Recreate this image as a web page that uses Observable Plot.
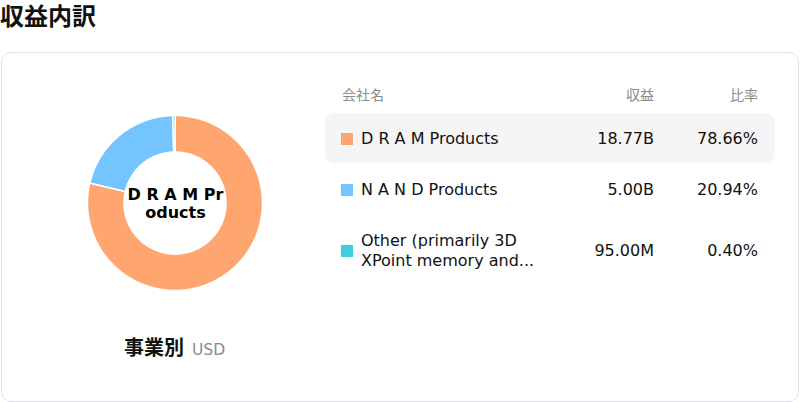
<!DOCTYPE html>
<html>
<head>
<meta charset="utf-8">
<script src="https://cdn.jsdelivr.net/npm/d3@7"></script>
<script src="https://cdn.jsdelivr.net/npm/@observablehq/plot@0.6"></script>
<style>
  html, body { margin: 0; padding: 0; background: #fff; }
  body { width: 800px; height: 402px; position: relative; overflow: hidden;
         font-family: "DejaVu Sans", "Noto Sans CJK JP", sans-serif; color: #111; }
  .abs { position: absolute; }
  #title { left: 0px; top: 2px; font-size: 24px; font-weight: bold; line-height: 30px; }
  #card { left: 1px; top: 52px; width: 796px; height: 348px; border: 1px solid #e0dfe8; border-radius: 10px; }
  #chart { left: 75px; top: 103px; }
  #sub { left: 124px; top: 335px; font-size: 20px; font-weight: bold; line-height: 26px; white-space: nowrap; }
  #sub span { font-size: 15.5px; font-weight: normal; color: #8a8a8a; margin-left: 8px; }
  .hdr { top: 86px; font-size: 14px; color: #8a8a8a; line-height: 18px; }
  .hl { left: 325px; top: 113px; width: 450px; height: 50px; background: #f5f5f5; border-radius: 9px; }
  .sw { width: 12px; height: 12px; left: 341px; }
  .name { left: 361px; width: 195px; font-size: 16px; line-height: 20px; }
  .val { font-size: 16px; line-height: 20px; text-align: right; }
</style>
</head>
<body>
<div id="title" class="abs">収益内訳</div>
<div id="card" class="abs"></div>
<div id="chart" class="abs"></div>
<div id="sub" class="abs">事業別<span>USD</span></div>
<div id="table"></div>
<script>
const categories = ["D R A M Products", "N A N D Products", "Other (primarily 3D XPoint memory and..."];
const revenue = [18.77e9, 5.00e9, 95.00e6];
const revenueLabels = ["18.77B", "5.00B", "95.00M"];
const shareLabels = ["78.66%", "20.94%", "0.40%"];
const colors = ["#FFA570", "#74C4FF", "#3ECFE4"];
const centerLabelLines = ["D R A M Pr", "oducts"];
const headers = ["会社名", "収益", "比率"];

const rows = categories.map((name, i) => ({name, value: revenue[i]}));
const arcs = d3.pie().sort(null).value(d => d.value)(rows);
const ri = 0.51, ro = 0.875;
const pts = [];
for (const a of arcs) {
  const n = Math.max(2, Math.ceil((a.endAngle - a.startAngle) / 0.01));
  for (let i = 0; i <= n; i++) {
    const t = a.startAngle + (a.endAngle - a.startAngle) * i / n;
    pts.push({name: a.data.name,
      x1: ri * Math.sin(t), y1: ri * Math.cos(t),
      x2: ro * Math.sin(t), y2: ro * Math.cos(t)});
  }
}

const svg = Plot.plot({
  width: 200, height: 200, margin: 0,
  x: {domain: [-1, 1], axis: null},
  y: {domain: [-1, 1], axis: null},
  color: {domain: categories, range: colors},
  style: {fontFamily: '"DejaVu Sans", "Noto Sans CJK JP", sans-serif', background: "transparent"},
  marks: [
    Plot.area(pts, {x1: "x1", y1: "y1", x2: "x2", y2: "y2", z: "name", fill: "name",
      stroke: "white", strokeWidth: 1.5, curve: "linear"}),
    Plot.text([centerLabelLines.join("\n")], {x: 0, y: 0, text: d => d, fontSize: 16,
      fontWeight: "bold", fill: "#000", lineHeight: 1.12, textAnchor: "middle"})
  ]
});
document.getElementById("chart").appendChild(svg);

const table = document.getElementById("table");
function add(cls, style, html) {
  const el = document.createElement("div");
  el.className = "abs " + cls;
  el.setAttribute("style", style);
  el.textContent = html;
  table.appendChild(el);
  return el;
}
add("hdr", "left:342px;", headers[0]);
add("hdr", "right:146px;", headers[1]);
add("hdr", "right:42px;", headers[2]);
add("hl", "", "");
const rowCenters = [138.5, 189.5, 250.5];
categories.forEach((c, i) => {
  const yc = rowCenters[i];
  add("sw", `top:${yc - 6}px;background:${colors[i]};`, "");
  const nm = add("name", "", c);
  nm.style.top = (yc - (i === 2 ? 20 : 10)) + "px";
  add("val", `right:146px;top:${yc - 10}px;`, revenueLabels[i]);
  add("val", `right:42px;top:${yc - 10}px;`, shareLabels[i]);
});
</script>
</body>
</html>
